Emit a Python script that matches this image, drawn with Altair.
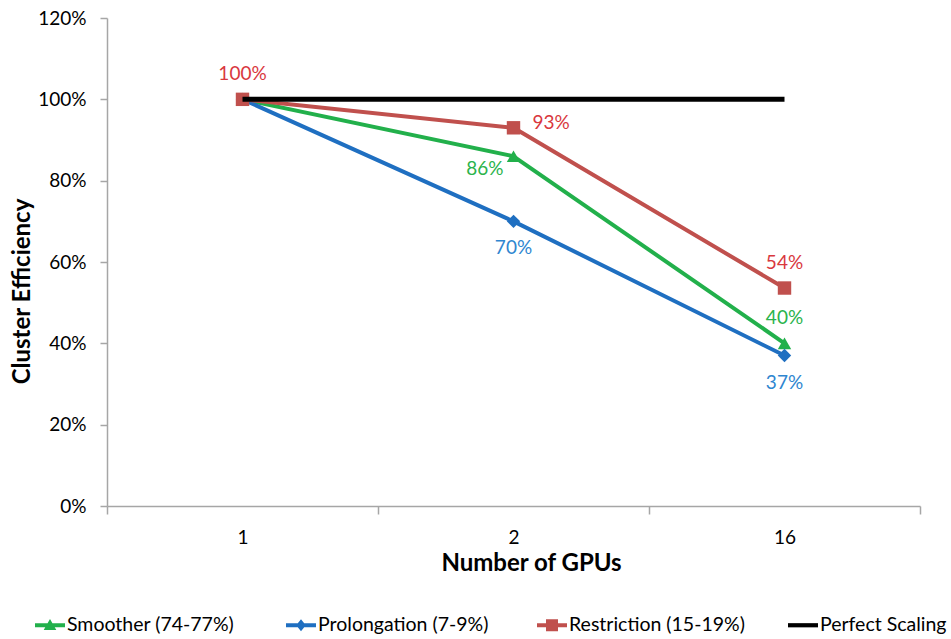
import altair as alt
import pandas as pd

# ---- data ----
gpus = ["1", "2", "16"]
series_names = ["Smoother (74-77%)", "Prolongation (7-9%)", "Restriction (15-19%)", "Perfect Scaling"]
smoother = [1.00, 0.86, 0.40]
prolongation = [1.00, 0.70, 0.37]
restriction = [1.00, 0.93, 0.536]
perfect = [1.00, 1.00, 1.00]
y_ticks = [0, 0.2, 0.4, 0.6, 0.8, 1.0, 1.2]

# which points carry a data label, grouped by where the label sits
labels_above = [("Restriction (15-19%)", "1"), ("Restriction (15-19%)", "16"), ("Smoother (74-77%)", "16")]
labels_below = [("Prolongation (7-9%)", "2"), ("Prolongation (7-9%)", "16")]
labels_right = [("Restriction (15-19%)", "2")]
labels_left = [("Smoother (74-77%)", "2")]

line_colors = ["#22b04b", "#1f6fc1", "#c0504d", "#000000"]
label_colors = ["#2bb34c", "#2f86d0", "#d9383e", "#000000"]
marker_shapes = ["triangle-up", "diamond", "square", "circle"]
bar = "M-1,-0.14H1V0.14H-1Z"
legend_paths = [
    bar + " M0,-0.42L0.42,0.32L-0.42,0.32Z",
    bar + " M0,-0.4L0.32,0L0,0.4L-0.32,0Z",
    bar + " M-0.4,-0.4H0.4V0.4H-0.4Z",
    bar,
]

rows = []
for name, vals in zip(series_names, [smoother, prolongation, restriction, perfect]):
    for g, v in zip(gpus, vals):
        rows.append({"series": name, "gpu": g, "value": v})
df = pd.DataFrame(rows)

FONT = "Lato"
AXIS_GRAY = "#a6a6a6"

common_axis = dict(
    grid=False,
    domainColor=AXIS_GRAY,
    domainWidth=1.5,
    tickColor=AXIS_GRAY,
    tickWidth=1.5,
    labelFont=FONT,
    titleFont=FONT,
    labelColor="black",
    titleColor="black",
    labelFontSize=19,
    titleFontSize=24,
    titleFontWeight="bold",
    titleBaseline="middle",
)

x_enc = alt.X(
    "gpu:N",
    sort=gpus,
    scale=alt.Scale(type="band", domain=gpus, paddingInner=0, paddingOuter=0),
    axis=alt.Axis(
        title="Number of GPUs",
        labelAngle=0,
        tickBand="extent",
        tickSize=8,
        labelPadding=14,
        titleX=424,
        titleY=57,
        **common_axis,
    ),
)
y_enc = alt.Y(
    "value:Q",
    scale=alt.Scale(domain=[0, 1.2], nice=False, zero=True),
    axis=alt.Axis(
        title="Cluster Efficiency",
        values=y_ticks,
        format=".0%",
        tickSize=7,
        labelPadding=14,
        titleX=-85,
        titleY=273,
        titleAngle=270,
        **common_axis,
    ),
)

color_no_legend = alt.Color(
    "series:N", scale=alt.Scale(domain=series_names, range=line_colors), legend=None
)

base = alt.Chart(df)
not_perfect = "datum.series != 'Perfect Scaling'"

lines = base.transform_filter(not_perfect).transform_calculate(
    gpu_order="indexof(['1','2','16'], datum.gpu)"
).mark_line(strokeWidth=4).encode(
    x=x_enc, y=y_enc, color=color_no_legend, order=alt.Order("gpu_order:Q")
)

points = base.transform_filter(not_perfect).mark_point(filled=True, opacity=1, size=180).encode(
    x=x_enc,
    y=y_enc,
    color=color_no_legend,
    shape=alt.Shape("series:N", scale=alt.Scale(domain=series_names, range=marker_shapes), legend=None),
)

perfect_line = base.transform_filter("datum.series == 'Perfect Scaling'").transform_calculate(
    gpu_order="indexof(['1','2','16'], datum.gpu)"
).mark_line(strokeWidth=5, color="black").encode(
    x=x_enc, y=y_enc, order=alt.Order("gpu_order:Q")
)


def label_layer(pairs, **mark_kw):
    expr = " || ".join(
        f"(datum.series == '{s}' && datum.gpu == '{g}')" for s, g in pairs
    )
    return base.transform_filter(expr).mark_text(font=FONT, fontSize=19, **mark_kw).encode(
        x=x_enc,
        y=y_enc,
        text=alt.Text("value:Q", format=".0%"),
        color=alt.Color("series:N", scale=alt.Scale(domain=series_names, range=label_colors), legend=None),
    )


lab_above = label_layer(labels_above, dy=-25, align="center", baseline="middle")
lab_below = label_layer(labels_below, dy=27, align="center", baseline="middle")
lab_right = label_layer(labels_right, dx=19, dy=-5, align="left", baseline="middle")
lab_left = label_layer(labels_left, dx=-10, dy=13, align="right", baseline="middle")

leg = alt.Legend(
    title=None,
    orient="none",
    legendX=-72,
    legendY=592,
    direction="horizontal",
    columns=4,
    gridAlign="all",
    columnPadding=43,
    symbolSize=900,
    symbolStrokeWidth=0,
    labelFont=FONT,
    labelFontSize=19.5,
    labelColor="black",
    labelOffset=2,
    labelLimit=400,
    padding=0,
)
legend_layer = base.transform_filter("false").mark_point(filled=True, opacity=1).encode(
    x=x_enc,
    y=y_enc,
    color=alt.Color("series:N", scale=alt.Scale(domain=series_names, range=line_colors), legend=leg),
    shape=alt.Shape("series:N", scale=alt.Scale(domain=series_names, range=legend_paths), legend=leg),
)

chart = (
    alt.layer(lines, points, perfect_line, lab_above, lab_below, lab_right, lab_left, legend_layer)
    .resolve_scale(color="independent", shape="independent")
    .properties(
        width=813,
        height=488,
        background="white",
        autosize=alt.AutoSizeParams(type="none"),
        padding={"left": 107, "top": 18, "right": 31, "bottom": 130},
    )
    .configure_view(stroke=None)
)

chart.save("out.html", embed_options={"renderer": "svg", "actions": False})
